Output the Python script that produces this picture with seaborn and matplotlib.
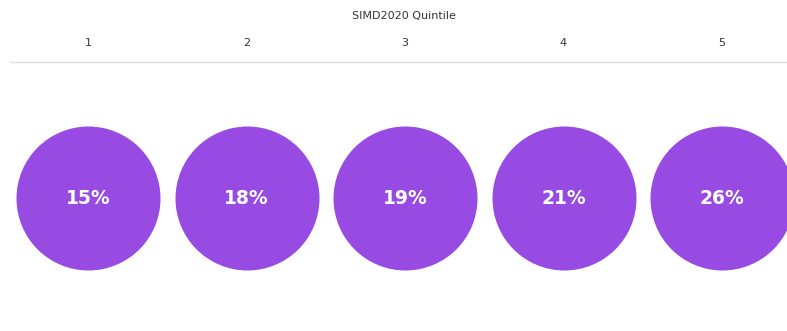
import matplotlib
matplotlib.use("Agg")
import matplotlib.pyplot as plt
import seaborn as sns
import pandas as pd

quintiles = ["1", "2", "3", "4", "5"]
shares = [15, 18, 19, 21, 26]
title = "SIMD2020 Quintile"

sns.set_theme(style="white")
plt.rcParams["font.family"] = ["DejaVu Sans"]

W, H = 787, 331
fig = plt.figure(figsize=(W / 100, H / 100), dpi=100)
ax = fig.add_axes([0, 0, 1, 1])

df = pd.DataFrame({"pos": range(len(quintiles)), "y": [198] * len(quintiles),
                   "quintile": quintiles, "share": shares})

# one unit between columns = 158.5 px; first column centred at 88 px
step = 158.5
x0 = 88
ax.set_xlim(-x0 / step, (W - x0) / step)
ax.set_ylim(H, 0)
ax.axis("off")

radius_px = 72
diam_pt = 2 * radius_px * 72 / 100
sns.scatterplot(data=df, x="pos", y="y", s=diam_pt ** 2, color="#984BE2",
                linewidth=0, ax=ax, legend=False, zorder=2)

for _, r in df.iterrows():
    ax.text(r["pos"], r["y"], f"{r['share']}%", ha="center", va="center",
            color="white", fontsize=13.5, fontweight="bold", zorder=3)
    ax.text(r["pos"], 43, r["quintile"], ha="center", va="center",
            color="#333333", fontsize=8)

ax.text((404 - x0) / step, 16, title, ha="center", va="center",
        color="#333333", fontsize=8)

ax.plot([(10 - x0) / step, (W - x0) / step], [62, 62], color="#dddddd",
        linewidth=1, zorder=1)

fig.savefig("out.png", dpi=100, facecolor="white")
